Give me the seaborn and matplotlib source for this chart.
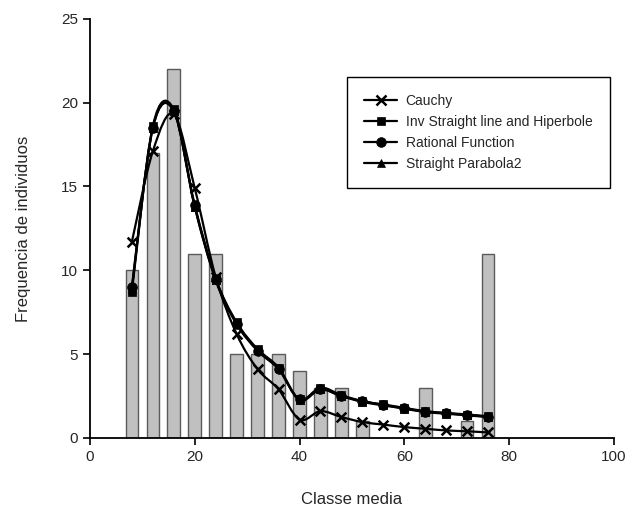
import numpy as np
import pandas as pd
import seaborn as sns
import matplotlib
matplotlib.use('Agg')
import matplotlib.pyplot as plt
from matplotlib.path import Path
from matplotlib.patches import PathPatch
from matplotlib.lines import Line2D

# datos
clases = [8, 12, 16, 20, 24, 28, 32, 36, 40, 44, 48, 52, 56, 60, 64, 68, 72, 76]
frecuencia = [10, 17, 22, 11, 11, 5, 5, 5, 4, 3, 3, 1, 0, 0, 3, 0, 1, 11]

cauchy = [11.7, 17.1, 19.3, 14.9, 9.6, 6.2, 4.1, 2.9, 1.1, 1.6, 1.25, 0.95,
          0.8, 0.65, 0.55, 0.45, 0.4, 0.33]
inv_recta = [8.7, 18.6, 19.6, 13.8, 9.5, 6.9, 5.3, 4.2, 2.3, 3.0, 2.55, 2.2,
             2.0, 1.8, 1.6, 1.5, 1.4, 1.3]
racional = [9.0, 18.5, 19.5, 13.9, 9.5, 6.8, 5.2, 4.1, 2.3, 2.9, 2.5, 2.2,
            1.97, 1.77, 1.57, 1.47, 1.37, 1.27]
parabola = [8.9, 18.5, 19.5, 13.8, 9.4, 6.8, 5.25, 4.15, 2.25, 2.9, 2.5, 2.15,
            1.95, 1.75, 1.55, 1.45, 1.35, 1.25]

series = [
    ('Cauchy', cauchy, 'x', 7),
    ('Inv Straight line and Hiperbole', inv_recta, 's', 6),
    ('Rational Function', racional, 'o', 7),
    ('Straight Parabola2', parabola, '^', 6),
]

sns.set_style('ticks')
plt.rcParams['font.family'] = ['Liberation Sans', 'DejaVu Sans']

fig = plt.figure(figsize=(6.29, 5.09), dpi=100)
ax = fig.add_axes([0.143, 0.1395, 0.833, 0.8235])

df = pd.DataFrame({'clase': clases, 'frecuencia': frecuencia})
sns.barplot(data=df, x='clase', y='frecuencia', native_scale=True, width=0.6,
            color='#c0c0c0', edgecolor='#5a5a5a', linewidth=1.0,
            saturation=1, ax=ax, zorder=1)


def curva_suave(x, y):
    # curva tipo Excel (Catmull-Rom en Bezier)
    x = np.asarray(x, float)
    y = np.asarray(y, float)
    pts = np.column_stack([x, y])
    verts = [pts[0]]
    codes = [Path.MOVETO]
    n = len(pts)
    for i in range(n - 1):
        p0 = pts[i - 1] if i > 0 else pts[i]
        p1 = pts[i]
        p2 = pts[i + 1]
        p3 = pts[i + 2] if i + 2 < n else pts[i + 1]
        c1 = p1 + (p2 - p0) / 6
        c2 = p2 - (p3 - p1) / 6
        verts += [c1, c2, p2]
        codes += [Path.CURVE4] * 3
    return Path(verts, codes)


handles = []
for nombre, valores, marca, tam in series:
    ax.add_patch(PathPatch(curva_suave(clases, valores), facecolor='none',
                           edgecolor='black', lw=1.6, zorder=3))
    sd = pd.DataFrame({'clase': clases, 'valor': valores})
    sns.scatterplot(data=sd, x='clase', y='valor', marker=marca, s=tam ** 2,
                    color='black', edgecolor='black',
                    linewidth=1.8 if marca == 'x' else 0.5, ax=ax, zorder=4)
    handles.append(Line2D([], [], color='black', lw=1.6, marker=marca,
                          markersize=tam, markeredgewidth=1.8 if marca == 'x' else 0.5,
                          label=nombre))

ax.set_xlim(0, 100)
ax.set_ylim(0, 25)
ax.set_xticks([0, 20, 40, 60, 80, 100])
ax.set_yticks([0, 5, 10, 15, 20, 25])
ax.tick_params(axis='both', labelsize=11, length=5, width=1.2, color='black')
for s in ['left', 'bottom']:
    ax.spines[s].set_linewidth(1.3)
    ax.spines[s].set_color('black')
sns.despine(ax=ax)

ax.set_xlabel('Classe media', fontsize=12, labelpad=20)
ax.set_ylabel('Frequencia de individuos', fontsize=12, labelpad=22)

leg = ax.legend(handles=handles, loc='upper right', bbox_to_anchor=(0.992, 0.862),
                fontsize=10, frameon=True, fancybox=False, edgecolor='black',
                framealpha=1, borderpad=1.25, labelspacing=0.5,
                handlelength=2.4, handletextpad=0.6, borderaxespad=0)
leg.get_frame().set_linewidth(1.0)

plt.savefig('out.png', dpi=100)
plt.close()
